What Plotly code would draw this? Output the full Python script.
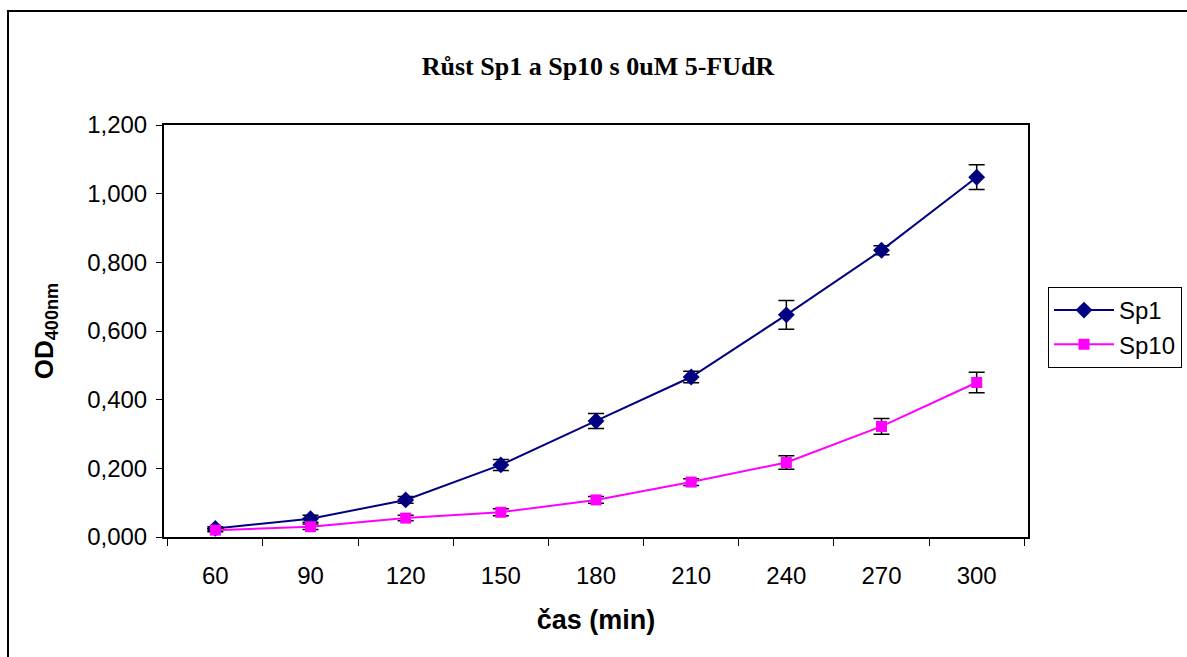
import plotly.graph_objects as go

time_min = ["60", "90", "120", "150", "180", "210", "240", "270", "300"]
sp1 = [0.025, 0.053, 0.108, 0.210, 0.338, 0.466, 0.647, 0.835, 1.048]
sp1_err = [0.005, 0.010, 0.010, 0.016, 0.022, 0.017, 0.042, 0.013, 0.036]
sp10 = [0.020, 0.030, 0.055, 0.072, 0.108, 0.160, 0.217, 0.322, 0.450]
sp10_err = [0.005, 0.008, 0.008, 0.010, 0.010, 0.010, 0.020, 0.023, 0.030]
yticks = [0, 0.2, 0.4, 0.6, 0.8, 1.0, 1.2]

fig = go.Figure()
fig.add_trace(go.Scatter(
    x=time_min, y=sp1, name="Sp1", mode="lines+markers",
    line=dict(color="#000080", width=2),
    marker=dict(symbol="diamond", size=13, color="#000080"),
    error_y=dict(type="data", array=sp1_err, visible=True, color="black", thickness=1.5, width=8),
))
fig.add_trace(go.Scatter(
    x=time_min, y=sp10, name="Sp10", mode="lines+markers",
    line=dict(color="#FF00FF", width=2),
    marker=dict(symbol="square", size=11, color="#FF00FF"),
    error_y=dict(type="data", array=sp10_err, visible=True, color="black", thickness=1.5, width=8),
))

fig.update_layout(
    width=1187, height=657,
    margin=dict(l=164, r=159, t=125, b=120, autoexpand=False),
    paper_bgcolor="white", plot_bgcolor="white",
    separators=", ",
    title=dict(text="Růst Sp1 a Sp10 s 0uM 5-FUdR", x=598 / 1187, xanchor="center",
               y=1 - 66 / 657, yanchor="middle",
               font=dict(family="Liberation Serif", size=26, color="black", weight="bold")),
    font=dict(family="Liberation Sans", color="black"),
    legend=dict(x=(1048 - 164) / 864, xanchor="left", y=(537 - 287) / 412, yanchor="top",
                bordercolor="black", borderwidth=1, bgcolor="white",
                font=dict(family="Liberation Sans", size=24, color="black"),
                itemwidth=60),
    showlegend=True,
)
fig.update_xaxes(
    type="category", tickson="boundaries", ticks="outside", ticklen=7, tickcolor="black",
    showline=True, linecolor="black", linewidth=2, mirror=True, showgrid=False,
    ticklabelstandoff=16,
    tickfont=dict(family="Liberation Sans", size=24, color="black"),
    title=dict(text="čas (min)", font=dict(family="Liberation Sans", size=27, color="black", weight="bold"), standoff=22),
)
fig.update_yaxes(
    range=[0, 1.2], tickvals=yticks, tickformat=".3f", ticks="outside", ticklen=6, tickcolor="black",
    showline=True, linecolor="black", linewidth=2, mirror=True, showgrid=False, zeroline=False,
    ticklabelstandoff=4,
    tickfont=dict(family="Liberation Sans", size=24, color="black"),
    title=dict(text="OD<sub>400nm</sub>", font=dict(family="Liberation Sans", size=26, color="black", weight="bold"), standoff=26),
)
fig.add_shape(type="rect", xref="paper", yref="paper",
              x0=(8 - 164) / 864, x1=1.3, y0=-0.5, y1=(537 - 11) / 412,
              line=dict(color="black", width=2), layer="below")

fig.write_html("out.html")
